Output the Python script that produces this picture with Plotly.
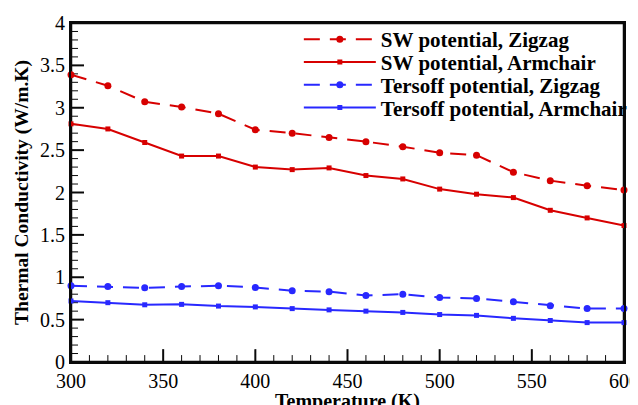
import plotly.graph_objects as go

temperature = [300, 320, 340, 360, 380, 400, 420, 440, 460, 480, 500, 520, 540, 560, 580, 600]
sw_zigzag = [3.39, 3.26, 3.07, 3.01, 2.93, 2.74, 2.70, 2.65, 2.60, 2.54, 2.47, 2.44, 2.24, 2.14, 2.08, 2.03]
sw_armchair = [2.81, 2.75, 2.59, 2.43, 2.43, 2.30, 2.27, 2.29, 2.20, 2.16, 2.04, 1.98, 1.94, 1.79, 1.70, 1.61]
tersoff_zigzag = [0.90, 0.89, 0.875, 0.89, 0.90, 0.88, 0.84, 0.83, 0.785, 0.80, 0.76, 0.75, 0.71, 0.665, 0.63, 0.63]
tersoff_armchair = [0.72, 0.70, 0.675, 0.68, 0.66, 0.65, 0.63, 0.615, 0.60, 0.585, 0.56, 0.55, 0.515, 0.49, 0.465, 0.465]
series_names = ["SW potential, Zigzag", "SW potential, Armchair",
                "Tersoff potential, Zigzag", "Tersoff potential, Armchair"]

x_range = [300, 600]
y_range = [0, 4]
x_major_ticks = [300, 350, 400, 450, 500, 550, 600]
x_minor_ticks = list(range(300, 601, 10))
y_major_ticks = [0, 0.5, 1, 1.5, 2, 2.5, 3, 3.5, 4]
y_minor_ticks = [i / 10 for i in range(0, 41)]

RED = "rgb(215,0,0)"
BLUE = "rgb(40,40,255)"
INK = "rgb(10,10,10)"
FONT = "Liberation Serif, Times New Roman, serif"

W, H = 638, 405
M = dict(l=63, r=22, t=11, b=51)
plot_w = W - M["l"] - M["r"]
plot_h = H - M["t"] - M["b"]
x_per_px = (x_range[1] - x_range[0]) / plot_w
y_per_px = (y_range[1] - y_range[0]) / plot_h

fig = go.Figure()

# Frame and inside tick marks (axis decoration), built from the tick lists
def tick_path(values, length_px, vertical):
    xs, ys = [], []
    for v in values:
        if vertical:
            xs += [v, v, None]
            ys += [y_range[0], y_range[0] + length_px * y_per_px, None]
        else:
            xs += [x_range[0], x_range[0] + length_px * x_per_px, None]
            ys += [v, v, None]
    return xs, ys

deco = []
mx, my = tick_path([v for v in x_minor_ticks if v not in x_major_ticks], 7, True)
deco.append((mx, my, 1))
Mx, My = tick_path(x_major_ticks, 13, True)
deco.append((Mx, My, 2))
mx, my = tick_path([v for v in y_minor_ticks if all(abs(v - m) > 1e-9 for m in y_major_ticks)], 7, False)
deco.append((mx, my, 1))
Mx, My = tick_path(y_major_ticks, 13, False)
deco.append((Mx, My, 2))
deco.append(([x_range[0], x_range[1], x_range[1], x_range[0], x_range[0]],
             [y_range[0], y_range[0], y_range[1], y_range[1], y_range[0]], 2.5))
for xs, ys, w in deco:
    fig.add_trace(go.Scatter(x=xs, y=ys, mode="lines", line=dict(color=INK, width=w),
                             showlegend=False, hoverinfo="skip", cliponaxis=False))

specs = [
    (sw_zigzag, RED, "16px,10px", "circle", 7),
    (sw_armchair, RED, "solid", "square", 5),
    (tersoff_zigzag, BLUE, "16px,10px", "circle", 7),
    (tersoff_armchair, BLUE, "solid", "square", 5),
]
legend_ids = ["legend2", "legend3", "legend4", "legend5"]
for name, lid, (vals, col, dash, sym, ms) in zip(series_names, legend_ids, specs):
    fig.add_trace(go.Scatter(
        x=temperature, y=vals, name=name, mode="lines+markers",
        line=dict(color=col, width=2, dash=dash),
        marker=dict(symbol=sym, size=ms, color=col),
        cliponaxis=False, legend=lid,
    ))

fig.update_xaxes(
    range=x_range, tickvals=x_major_ticks, ticktext=[str(v) for v in x_major_ticks],
    showline=True, linecolor=INK, linewidth=2, mirror=True,
    ticks="", showgrid=False, zeroline=False, automargin=False,
    tickfont=dict(family=FONT, size=20, color="black"),
    title=dict(text="<b>Temperature (K)</b>", font=dict(family=FONT, size=20, color="black"), standoff=6),
)
fig.update_yaxes(
    range=y_range, tickvals=y_major_ticks, ticktext=[f"{v:g}" for v in y_major_ticks],
    showline=True, linecolor=INK, linewidth=2, mirror=True,
    ticks="", showgrid=False, zeroline=False, automargin=False,
    tickfont=dict(family=FONT, size=20, color="black"),
    title=dict(text="<b>Thermal Conductivity (W/m.K)</b>", font=dict(family=FONT, size=19.5, color="black"), standoff=6),
)

legend_y0 = 1.0117
legend_step = 0.0671
legend_layouts = {}
for i, lid in enumerate(legend_ids):
    legend_layouts[lid] = dict(
        x=0.412, y=legend_y0 - i * legend_step, xanchor="left", yanchor="top",
        bgcolor="rgba(0,0,0,0)", borderwidth=0,
        font=dict(family=FONT, size=21, color="black", weight="bold"),
        itemwidth=72, visible=True,
    )

fig.update_layout(
    template="none",
    width=W, height=H,
    margin=M,
    plot_bgcolor="white", paper_bgcolor="white",
    font=dict(family=FONT, color="black"),
    **legend_layouts,
)
fig.write_html("out.html")
